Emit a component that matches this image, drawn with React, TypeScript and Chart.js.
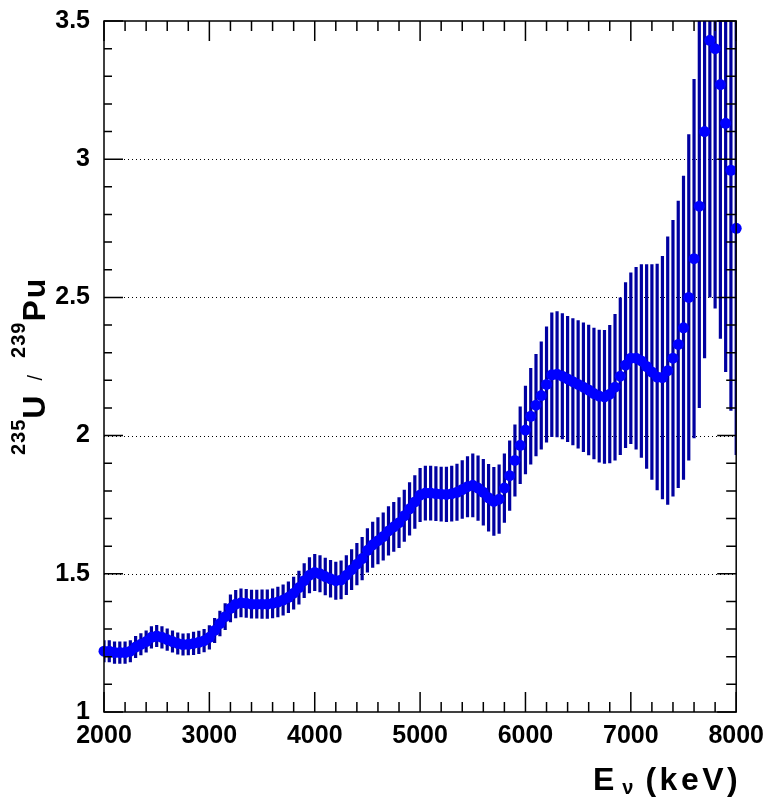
import React, { useEffect, useRef } from 'react';
import { Chart, registerables } from 'chart.js';

Chart.register(...registerables);

// Neutrino energy bins (keV)
const energies = [
  2000, 2050, 2100, 2150, 2200, 2250, 2300, 2350, 2400, 2450,
  2500, 2550, 2600, 2650, 2700, 2750, 2800, 2850, 2900, 2950,
  3000, 3050, 3100, 3150, 3200, 3250, 3300, 3350, 3400, 3450,
  3500, 3550, 3600, 3650, 3700, 3750, 3800, 3850, 3900, 3950,
  4000, 4050, 4100, 4150, 4200, 4250, 4300, 4350, 4400, 4450,
  4500, 4550, 4600, 4650, 4700, 4750, 4800, 4850, 4900, 4950,
  5000, 5050, 5100, 5150, 5200, 5250, 5300, 5350, 5400, 5450,
  5500, 5550, 5600, 5650, 5700, 5750, 5800, 5850, 5900, 5950,
  6000, 6050, 6100, 6150, 6200, 6250, 6300, 6350, 6400, 6450,
  6500, 6550, 6600, 6650, 6700, 6750, 6800, 6850, 6900, 6950,
  7000, 7050, 7100, 7150, 7200, 7250, 7300, 7350, 7400, 7450,
  7500, 7550, 7600, 7650, 7700, 7750, 7800, 7850, 7900, 7950,
  8000,
];

// 235U / 239Pu spectrum ratio
const ratio = [
  1.22, 1.22, 1.215, 1.215, 1.215, 1.22, 1.235, 1.245, 1.255, 1.27,
  1.275, 1.27, 1.262, 1.255, 1.248, 1.244, 1.245, 1.248, 1.252, 1.258,
  1.27, 1.295, 1.32, 1.345, 1.375, 1.39, 1.395, 1.393, 1.39, 1.39,
  1.39, 1.39, 1.393, 1.398, 1.405, 1.415, 1.43, 1.45, 1.475, 1.495,
  1.505, 1.5, 1.49, 1.482, 1.475, 1.478, 1.495, 1.515, 1.535, 1.555,
  1.585, 1.605, 1.62, 1.635, 1.655, 1.67, 1.685, 1.71, 1.735, 1.76,
  1.785, 1.792, 1.792, 1.79, 1.788, 1.787, 1.79, 1.795, 1.805, 1.815,
  1.82, 1.81, 1.795, 1.775, 1.762, 1.77, 1.81, 1.855, 1.91, 1.965,
  2.02, 2.07, 2.11, 2.145, 2.185, 2.22, 2.222, 2.215, 2.205, 2.195,
  2.185, 2.175, 2.165, 2.152, 2.143, 2.14, 2.15, 2.175, 2.215, 2.255,
  2.28, 2.28, 2.27, 2.25, 2.23, 2.212, 2.21, 2.235, 2.28, 2.33,
  2.39, 2.5, 2.64, 2.83, 3.1, 3.43, 3.4, 3.27, 3.13, 2.96,
  2.75,
];

// Symmetric uncertainty on the ratio
const ratioErr = [
  0.04, 0.04, 0.04, 0.04, 0.04, 0.04, 0.04, 0.04, 0.04, 0.04,
  0.04, 0.04, 0.04, 0.04, 0.04, 0.04, 0.04, 0.042, 0.042, 0.042,
  0.044, 0.045, 0.046, 0.048, 0.05, 0.051, 0.052, 0.052, 0.052, 0.052,
  0.053, 0.053, 0.054, 0.055, 0.056, 0.057, 0.059, 0.061, 0.063, 0.065,
  0.067, 0.067, 0.068, 0.068, 0.069, 0.07, 0.072, 0.074, 0.076, 0.078,
  0.08, 0.083, 0.085, 0.087, 0.089, 0.09, 0.092, 0.094, 0.096, 0.097,
  0.098, 0.099, 0.099, 0.099, 0.099, 0.1, 0.101, 0.103, 0.106, 0.11,
  0.115, 0.118, 0.12, 0.122, 0.124, 0.125, 0.125, 0.127, 0.13, 0.14,
  0.16, 0.175, 0.185, 0.195, 0.21, 0.225, 0.228, 0.228, 0.228, 0.23,
  0.232, 0.234, 0.236, 0.238, 0.24, 0.242, 0.25, 0.265, 0.285, 0.3,
  0.31, 0.33, 0.35, 0.37, 0.39, 0.41, 0.44, 0.485, 0.5, 0.52,
  0.55, 0.59, 0.65, 0.73, 0.82, 0.93, 0.94, 0.92, 0.9, 0.87,
  0.82,
];

// Axis ranges and tick spacing
const xRange = [2000, 8000];
const yRange = [1, 3.5];
const xMajorStep = 1000;
const xMinorStep = 200;
const yMajorStep = 0.5;
const yMinorStep = 0.1;
const gridLevels = [1.5, 2, 2.5, 3];

const FONT = '"Liberation Sans", Arial, Helvetica, sans-serif';

// Draws a run of text pieces character by character with extra tracking.
// Each piece: [text, font, baseline shift, tracking]
function drawPieces(ctx: CanvasRenderingContext2D, pieces: [string, string, number, number][]) {
  let cx = 0;
  for (const [t, f, dy, track] of pieces) {
    ctx.font = f;
    for (const ch of t) {
      ctx.fillText(ch, cx, dy);
      cx += ctx.measureText(ch).width + track;
    }
  }
}

// Frame, inward ticks on all four sides, dotted grid and error bars
const rootFrame = {
  id: 'rootFrame',
  beforeDatasetsDraw(chart: any) {
    const { ctx, chartArea: a, scales } = chart;
    const x = scales.x;
    const y = scales.y;

    ctx.save();
    ctx.strokeStyle = '#000';
    ctx.lineWidth = 1;
    ctx.setLineDash([1, 3]);
    for (const v of gridLevels) {
      const py = Math.round(y.getPixelForValue(v)) + 0.5;
      ctx.beginPath();
      ctx.moveTo(a.left, py);
      ctx.lineTo(a.right, py);
      ctx.stroke();
    }
    ctx.restore();

    ctx.save();
    ctx.beginPath();
    ctx.rect(a.left, a.top, a.right - a.left, a.bottom - a.top);
    ctx.clip();
    ctx.strokeStyle = '#0000a0';
    ctx.lineWidth = 3.2;
    for (let i = 0; i < energies.length; i++) {
      const px = x.getPixelForValue(energies[i]);
      const y1 = y.getPixelForValue(ratio[i] - ratioErr[i]);
      const y2 = y.getPixelForValue(ratio[i] + ratioErr[i]);
      ctx.beginPath();
      ctx.moveTo(px, y1);
      ctx.lineTo(px, y2);
      ctx.stroke();
    }
    ctx.restore();
  },
  afterDatasetsDraw(chart: any) {
    const { ctx, chartArea: a, scales } = chart;
    const x = scales.x;
    const y = scales.y;
    ctx.save();
    ctx.strokeStyle = '#000';
    ctx.lineWidth = 1.5;
    ctx.strokeRect(a.left, a.top, a.right - a.left, a.bottom - a.top);

    ctx.beginPath();
    const nx = Math.round((xRange[1] - xRange[0]) / xMinorStep);
    for (let i = 0; i <= nx; i++) {
      const v = xRange[0] + i * xMinorStep;
      const major = Math.abs(v / xMajorStep - Math.round(v / xMajorStep)) < 1e-6;
      const len = major ? 20 : 10;
      const px = x.getPixelForValue(v);
      ctx.moveTo(px, a.bottom);
      ctx.lineTo(px, a.bottom - len);
      ctx.moveTo(px, a.top);
      ctx.lineTo(px, a.top + len);
    }
    const ny = Math.round((yRange[1] - yRange[0]) / yMinorStep);
    for (let i = 0; i <= ny; i++) {
      const v = yRange[0] + i * yMinorStep;
      const major = Math.abs(v / yMajorStep - Math.round(v / yMajorStep)) < 1e-6;
      const len = major ? 19 : 8;
      const py = y.getPixelForValue(v);
      ctx.moveTo(a.left, py);
      ctx.lineTo(a.left + len, py);
      ctx.moveTo(a.right, py);
      ctx.lineTo(a.right - (major ? 19 : 10), py);
    }
    ctx.stroke();
    ctx.restore();
  },
  afterDraw(chart: any) {
    const { ctx } = chart;
    const big = `bold 32px ${FONT}`;
    const small = `bold 20px ${FONT}`;
    const slash = `20px ${FONT}`;

    // Vertical axis title: 235U / 239Pu
    ctx.save();
    ctx.fillStyle = '#000';
    ctx.textBaseline = 'alphabetic';
    ctx.textAlign = 'left';
    ctx.translate(45, 455);
    ctx.rotate(-Math.PI / 2);
    drawPieces(ctx, [
      ['235', small, -20, 1],
      ['U', big, 0, 15],
      ['/', slash, -3, 17],
      ['239', small, -20, 1],
      ['Pu', big, 0, 2],
    ]);
    ctx.restore();

    // Horizontal axis title: E_nu (keV)
    ctx.save();
    ctx.fillStyle = '#000';
    ctx.textBaseline = 'alphabetic';
    ctx.textAlign = 'left';
    ctx.translate(593, 790);
    drawPieces(ctx, [
      ['E', big, 0, 8],
      ['\u03bd', small, 4, 12],
      ['(keV)', big, 0, 3.5],
    ]);
    ctx.restore();
  },
};

export default function App() {
  const canvasRef = useRef<HTMLCanvasElement | null>(null);

  useEffect(() => {
    const canvas = canvasRef.current;
    if (!canvas) return;
    const chart = new Chart(canvas, {
      type: 'scatter',
      data: {
        datasets: [
          {
            data: energies.map((e, i) => ({ x: e, y: ratio[i] })),
            backgroundColor: '#0000ff',
            borderWidth: 0,
            pointRadius: 5.5,
            pointHoverRadius: 5.5,
            clip: false as any,
          },
        ],
      },
      options: {
        animation: false,
        responsive: false,
        devicePixelRatio: 1,
        events: [],
        layout: { padding: { top: 20, right: 28, left: 0, bottom: 0 } },
        plugins: {
          legend: { display: false },
          tooltip: { enabled: false },
        },
        scales: {
          x: {
            type: 'linear',
            min: xRange[0],
            max: xRange[1],
            grid: { display: false },
            border: { display: false },
            ticks: {
              stepSize: xMajorStep,
              autoSkip: false,
              maxRotation: 0,
              minRotation: 0,
              padding: 1,
              color: '#000',
              font: { family: FONT, size: 25, weight: 'bold' },
              callback: (v: any) => String(v),
            },
            afterFit: (s: any) => {
              s.height = 86;
            },
          },
          y: {
            type: 'linear',
            min: yRange[0],
            max: yRange[1],
            grid: { display: false },
            border: { display: false },
            ticks: {
              stepSize: yMajorStep,
              padding: 6,
              color: '#000',
              font: { family: FONT, size: 25, weight: 'bold' },
              callback: (v: any) => String(Math.round(v * 10) / 10),
            },
            afterFit: (s: any) => {
              s.width = 104;
            },
          },
        },
      },
      plugins: [rootFrame],
    });
    return () => chart.destroy();
  }, []);

  return (
    <div style={{ position: 'fixed', left: 0, top: 0, width: 765, height: 798, background: '#fff' }}>
      <canvas ref={canvasRef} width={765} height={798} style={{ display: 'block' }} />
    </div>
  );
}
